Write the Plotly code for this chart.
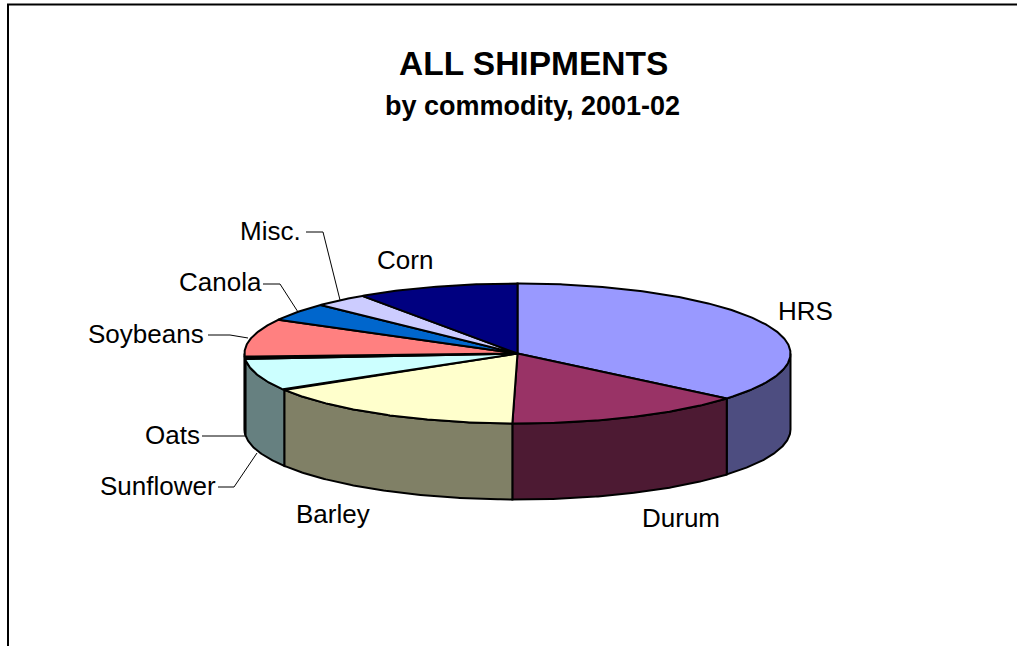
import numpy as np
import plotly.graph_objects as go

# Data (shares of shipments, percent)
commodities = ["HRS", "Durum", "Barley", "Sunflower", "Oats", "Soybeans", "Canola", "Misc.", "Corn"]
shares = [36.1, 14.2, 16.0, 7.45, 0.42, 8.83, 4.17, 3.2, 9.63]
top_colors = ["#9999FF", "#993366", "#FFFFCC", "#CCFFFF", "#660066", "#FF8080", "#0066CC", "#CCCCFF", "#000080"]
side_colors = ["#4D4D80", "#4D1A33", "#808066", "#668080", "#330033", "#804040", "#003366", "#666680", "#000040"]

# Label centre positions in page pixels
label_x = [805, 681, 333, 158, 172, 146, 220, 270, 405]
label_y = [311, 518, 514, 486, 435, 334, 282, 231, 260]

# Leader lines, page pixels
leaders = {
    "Misc.": ([306, 323, 340], [232, 232, 300]),
    "Canola": ([263, 280, 298], [284, 284, 312]),
    "Soybeans": ([208, 230, 248], [335, 335, 338]),
    "Oats": ([202, 245], [436, 436]),
    "Sunflower": ([218, 234, 257], [487, 487, 453]),
}

# Projection of the tilted pie on the page
CX, CY, RX, RY, DEPTH = 517.5, 353.5, 273, 70, 76
LW = 2


def rim(t_deg):
    t = np.radians(t_deg)
    return CX + RX * np.sin(t), CY - RY * np.cos(t)


fig = go.Figure()

total = sum(shares)
edges = np.concatenate([[0], np.cumsum(shares) / total * 360])

# Walls (visible only on the front half, 90..270 degrees clockwise from top)
for i in range(len(shares)):
    a, b = max(edges[i], 90), min(edges[i + 1], 270)
    if b <= a:
        continue
    tt = np.linspace(a, b, max(int((b - a) * 2), 2))
    x, y = rim(tt)
    px = np.concatenate([x, x[::-1], x[:1]])
    py = np.concatenate([y, y[::-1] + DEPTH, y[:1]])
    fig.add_trace(go.Scatter(x=px, y=py, mode="lines", fill="toself", fillcolor=side_colors[i],
                             line=dict(color="black", width=LW), hoverinfo="skip",
                             name=commodities[i] + " side", showlegend=False))

# Top faces
for i in range(len(shares)):
    a, b = edges[i], edges[i + 1]
    tt = np.linspace(a, b, max(int((b - a) * 2), 2))
    x, y = rim(tt)
    px = np.concatenate([[CX], x, [CX]])
    py = np.concatenate([[CY], y, [CY]])
    fig.add_trace(go.Scatter(x=px, y=py, mode="lines", fill="toself", fillcolor=top_colors[i],
                             line=dict(color="black", width=LW), hoverinfo="skip",
                             name=commodities[i], showlegend=False))

# Leader lines
for name, (lx, ly) in leaders.items():
    fig.add_trace(go.Scatter(x=lx, y=ly, mode="lines", line=dict(color="black", width=1),
                             hoverinfo="skip", name=name + " leader", showlegend=False))

FONT = "Liberation Sans, Arial, sans-serif"
annotations = [
    dict(x=lx, y=ly, text=c, showarrow=False, xanchor="center", yanchor="middle",
         font=dict(family=FONT, size=26, color="black"))
    for c, lx, ly in zip(commodities, label_x, label_y)
]
annotations += [
    dict(x=533, y=63, text="<b>ALL SHIPMENTS</b>", showarrow=False, xanchor="center", yanchor="middle",
         font=dict(family=FONT, size=33.5, color="black")),
    dict(x=532, y=106, text="<b>by commodity, 2001-02</b>", showarrow=False, xanchor="center", yanchor="middle",
         font=dict(family=FONT, size=27, color="black")),
]

fig.update_layout(
    width=1017, height=646, margin=dict(l=0, r=0, t=0, b=0),
    paper_bgcolor="white", plot_bgcolor="white", showlegend=False,
    xaxis=dict(range=[0, 1017], visible=False, fixedrange=True),
    yaxis=dict(range=[646, 0], visible=False, fixedrange=True),
    annotations=annotations,
    shapes=[
        dict(type="line", x0=8, x1=8, y0=4.5, y1=646, line=dict(color="black", width=2)),
        dict(type="line", x0=7, x1=1017, y0=4.5, y1=4.5, line=dict(color="black", width=2)),
    ],
)

fig.write_html("out.html", config=dict(displayModeBar=False),
               post_script="document.body.style.margin='0';document.body.style.overflow='hidden';")
